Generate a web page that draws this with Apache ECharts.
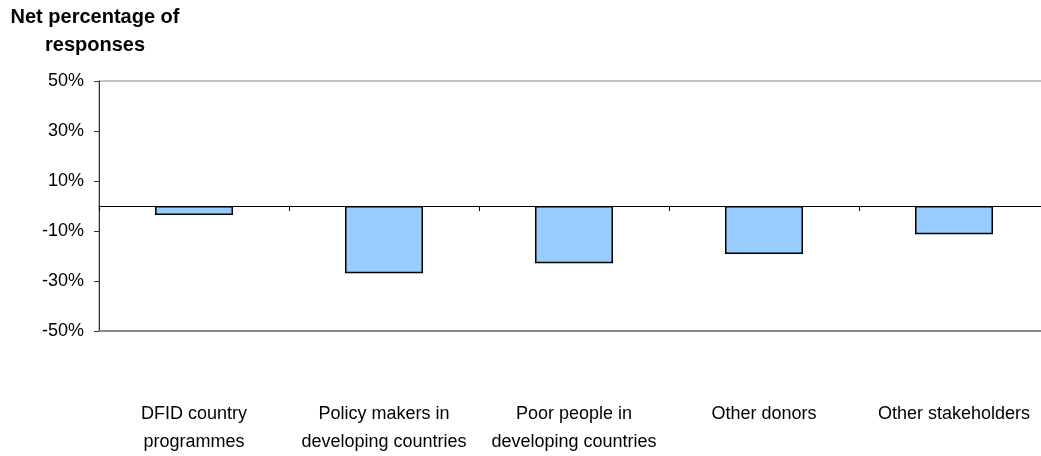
<!DOCTYPE html>
<html>
<head>
<meta charset="utf-8">
<script src="https://cdn.jsdelivr.net/npm/echarts@6/dist/echarts.min.js"></script>
<style>html,body{margin:0;padding:0;background:#fff}#c{width:1041px;height:456px}</style>
</head>
<body>
<div id="c"></div>
<script>
const categories = ["DFID country\nprogrammes", "Policy makers in\ndeveloping countries", "Poor people in\ndeveloping countries", "Other donors", "Other stakeholders"];
const values = [-3.6, -26.9, -22.9, -19.2, -11.3];
const yTicks = [-50, -30, -10, 10, 30, 50];
const titleText = "Net percentage of\nresponses";

const chart = echarts.init(document.getElementById('c'), null, {renderer: 'canvas'});
const font = '"Liberation Sans", Arial, sans-serif';
chart.setOption({
  animation: false,
  backgroundColor: '#fff',
  graphic: [{
    type: 'text', x: 95, y: 3,
    style: {text: titleText, font: 'bold 20px ' + font, fill: '#000', align: 'center', textAlign: 'center', lineHeight: 28}
  }],
  grid: {left: 99, top: 81, width: 950, height: 250, show: true, borderColor: '#888', borderWidth: 1, outerBoundsMode: 'none', containLabel: false},
  xAxis: [{
    type: 'category', data: categories, gridIndex: 0,
    axisLine: {onZero: true, lineStyle: {color: '#000', width: 1}},
    axisTick: {show: true, length: 5, lineStyle: {color: '#000'}},
    axisLabel: {show: false}
  }, {
    type: 'category', data: categories, gridIndex: 0, position: 'bottom',
    axisLine: {show: true, onZero: false, lineStyle: {color: '#888', width: 2}}, axisTick: {show: false},
    axisLabel: {show: true, margin: 69, color: '#000', fontFamily: font, fontSize: 18, lineHeight: 28, interval: 0}
  }],
  yAxis: {
    type: 'value', min: -50, max: 50,
    axisLine: {show: true, lineStyle: {color: '#333', width: 1}},
    axisTick: {show: true, length: 5, customValues: yTicks, lineStyle: {color: '#333'}},
    axisLabel: {customValues: yTicks, formatter: v => v + '%', color: '#000', fontFamily: font, fontSize: 18, margin: 15},
    splitLine: {show: false}
  },
  series: [{
    type: 'bar', data: values, xAxisIndex: 0, barWidth: 78,
    itemStyle: {color: '#99CCFF', borderColor: '#000', borderWidth: 1.5}
  }]
});
</script>
</body>
</html>
